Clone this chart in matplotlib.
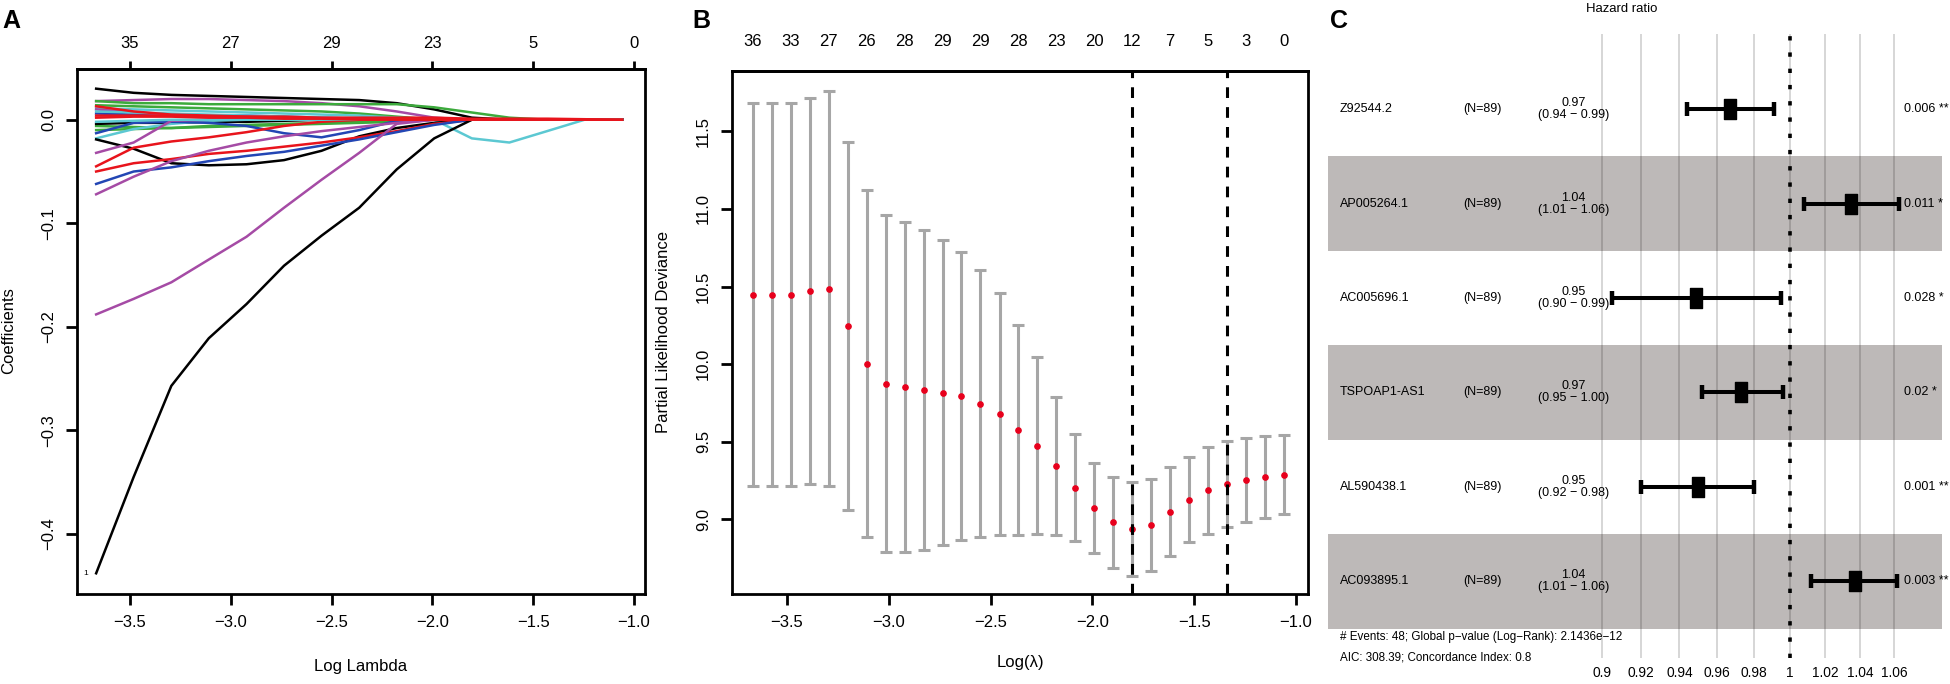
import numpy as np
import matplotlib.pyplot as plt
from matplotlib import font_manager
from matplotlib.path import Path
from matplotlib.ticker import NullLocator
from matplotlib.transforms import blended_transform_factory

plt.rcParams['font.family'] = ['Liberation Sans', 'DejaVu Sans']

# the forest panel uses a condensed face; fall back to a smaller regular face
try:
    font_manager.findfont('Liberation Sans Narrow', fallback_to_default=False)
    NARROW, c_scale, f_scale = ['Liberation Sans Narrow', 'DejaVu Sans'], 1.0, 1.0
except ValueError:
    NARROW, c_scale, f_scale = ['Liberation Sans', 'DejaVu Sans'], 0.9, 0.84

# ---------------- Panel A: coefficient paths ----------------
lam_path = [-3.668, -3.482, -3.295, -3.109, -2.922, -2.736, -2.550, -2.363,
            -2.177, -1.991, -1.804, -1.618, -1.431, -1.245, -1.059]

BLK, RED, GRN, BLU, CYN, PUR = '#000000', '#e8141c', '#3caa3c', '#2346b4', '#5cc8d2', '#a54ba5'

path_colors = [GRN, CYN, BLU, PUR, GRN, GRN, BLK, CYN, BLU, CYN, PUR,
               BLK, BLK, RED, RED, BLU, PUR, PUR, PUR, BLK, GRN, RED, CYN, RED, RED]
coef_paths = [
    [0.014, 0.013, 0.012, 0.011, 0.010, 0.009, 0.008, 0.006, 0.003, 0, 0, 0, 0, 0, 0],
    [0.011, 0.010, 0.009, 0.008, 0.007, 0.006, 0.005, 0.004, 0.002, 0, 0, 0, 0, 0, 0],
    [0.006, 0.005, 0.005, 0.004, 0.004, 0.003, 0.002, 0.001, 0, 0, 0, 0, 0, 0, 0],
    [0.010, 0.007, 0.005, 0.003, 0.001, 0, 0, 0, 0, 0, 0, 0, 0, 0, 0],
    [-0.006, -0.007, -0.008, -0.007, -0.006, -0.005, -0.004, -0.003, -0.002, 0, 0, 0, 0, 0, 0],
    [-0.010, -0.009, -0.008, -0.006, -0.005, -0.004, -0.003, -0.002, -0.001, 0, 0, 0, 0, 0, 0],
    [-0.004, -0.003, -0.003, -0.002, -0.002, -0.001, 0, 0, 0, 0, 0, 0, 0, 0, 0],
    [-0.018, -0.009, -0.004, -0.001, 0, 0, 0, 0, 0, 0, 0, 0, 0, 0, 0],
    [-0.013, -0.003, -0.002, -0.003, -0.006, -0.013, -0.017, -0.010, -0.001, 0, 0, 0, 0, 0, 0],
    [0.008, 0.007, 0.006, 0.005, 0.004, 0.003, 0.002, 0.001, 0, 0, -0.018, -0.022, -0.011, 0, 0],
    [0.018, 0.019, 0.020, 0.020, 0.019, 0.018, 0.016, 0.013, 0.008, 0.002, 0, 0, 0, 0, 0],
    [0.030, 0.026, 0.024, 0.023, 0.022, 0.021, 0.020, 0.019, 0.016, 0.010, 0.002, 0, 0, 0, 0],
    [-0.019, -0.028, -0.042, -0.044, -0.043, -0.039, -0.030, -0.016, -0.008, -0.003, 0, 0, 0, 0, 0],
    [-0.045, -0.027, -0.021, -0.017, -0.012, -0.006, -0.002, 0, 0, 0, 0, 0, 0, 0, 0],
    [-0.050, -0.042, -0.038, -0.033, -0.030, -0.026, -0.022, -0.017, -0.011, -0.004, 0, 0, 0, 0, 0],
    [-0.062, -0.050, -0.046, -0.040, -0.035, -0.031, -0.025, -0.019, -0.012, -0.005, 0, 0, 0, 0, 0],
    [-0.072, -0.055, -0.040, -0.030, -0.022, -0.016, -0.011, -0.007, -0.003, 0, 0, 0, 0, 0, 0],
    [-0.032, -0.022, -0.001, 0, 0, 0, 0, 0, 0, 0, 0, 0, 0, 0, 0],
    [-0.188, -0.173, -0.157, -0.135, -0.113, -0.085, -0.058, -0.032, -0.004, 0, 0, 0, 0, 0, 0],
    [-0.438, -0.345, -0.257, -0.211, -0.178, -0.141, -0.112, -0.085, -0.048, -0.018, 0, 0, 0, 0, 0],
    [0.018, 0.016, 0.016, 0.015, 0.015, 0.015, 0.015, 0.015, 0.015, 0.012, 0.007, 0.002, 0, 0, 0],
    [0.013, 0.008, 0.005, 0.004, 0.003, 0.002, 0.001, 0, 0, 0, 0, 0, 0, 0, 0],
    [-0.002, -0.001, 0, 0, 0, 0, 0, 0, 0, 0, 0, 0, 0, 0, 0],
    [0.002, 0.003, 0.003, 0.002, 0.002, 0.001, 0.001, 0, 0, 0, 0, 0, 0, 0, 0],
    [0.004, 0.004, 0.004, 0.003, 0.003, 0.003, 0.002, 0.002, 0.002, 0.002, 0.001, 0.001, 0.001, 0.0005, 0],
]
a_xticks = [-3.5, -3.0, -2.5, -2.0, -1.5, -1.0]
a_yticks = [0.0, -0.1, -0.2, -0.3, -0.4]
a_top_labels = ['35', '27', '29', '23', '5', '0']

# ---------------- Panel B: cross-validation ----------------
lam_cv = [-3.668, -3.575, -3.482, -3.388, -3.295, -3.202, -3.109, -3.016, -2.922, -2.829,
          -2.736, -2.643, -2.550, -2.456, -2.363, -2.270, -2.177, -2.084, -1.991, -1.897,
          -1.804, -1.711, -1.618, -1.524, -1.431, -1.338, -1.245, -1.152, -1.059]
cv_mean = [10.447, 10.447, 10.447, 10.469, 10.486, 10.244, 10.003, 9.874, 9.854, 9.831,
           9.812, 9.792, 9.744, 9.677, 9.573, 9.475, 9.343, 9.202, 9.071, 8.983,
           8.936, 8.962, 9.048, 9.127, 9.187, 9.226, 9.254, 9.273, 9.284]
cv_up = [11.683, 11.683, 11.683, 11.716, 11.761, 11.430, 11.121, 10.961, 10.919, 10.862,
         10.798, 10.725, 10.607, 10.458, 10.253, 10.045, 9.789, 9.550, 9.361, 9.275,
         9.239, 9.260, 9.336, 9.404, 9.468, 9.505, 9.522, 9.535, 9.544]
cv_lo = [9.216, 9.216, 9.216, 9.225, 9.213, 9.062, 8.885, 8.787, 8.787, 8.803,
         8.834, 8.868, 8.885, 8.899, 8.899, 8.904, 8.899, 8.861, 8.782, 8.689,
         8.637, 8.666, 8.762, 8.852, 8.906, 8.949, 8.985, 9.011, 9.033]
b_top_labels = ['36', '33', '27', '26', '28', '29', '29', '28', '23', '20', '12', '7', '5', '3', '0']
lam_min, lam_1se = -1.804, -1.338
b_xticks = [-3.5, -3.0, -2.5, -2.0, -1.5, -1.0]
b_yticks = [9.0, 9.5, 10.0, 10.5, 11.0, 11.5]

# ---------------- Panel C: forest plot ----------------
genes = ['Z92544.2', 'AP005264.1', 'AC005696.1', 'TSPOAP1-AS1', 'AL590438.1', 'AC093895.1']
n_text = ['(N=89)'] * 6
hr = [0.967, 1.035, 0.949, 0.973, 0.950, 1.037]
hr_lo = [0.944, 1.008, 0.905, 0.952, 0.920, 1.012]
hr_hi = [0.991, 1.063, 0.995, 0.996, 0.980, 1.062]
hr_text = ['0.97', '1.04', '0.95', '0.97', '0.95', '1.04']
ci_text = ['(0.94 \u2212 0.99)', '(1.01 \u2212 1.06)', '(0.90 \u2212 0.99)',
           '(0.95 \u2212 1.00)', '(0.92 \u2212 0.98)', '(1.01 \u2212 1.06)']
p_text = ['0.006 **', '0.011 *', '0.028 *', '0.02 *', '0.001 **', '0.003 **']
c_ticks = [0.9, 0.92, 0.94, 0.96, 0.98, 1, 1.02, 1.04, 1.06]
c_tick_labels = ['0.9', '0.92', '0.94', '0.96', '0.98', '1', '1.02', '1.04', '1.06']
footer = ['# Events: 48; Global p\u2212value (Log\u2212Rank): 2.1436e\u221212',
          'AIC: 308.39; Concordance Index: 0.8']


def fmt(v):
    return f'{v:.1f}'.replace('-', '\u2212')


W, H = 1950, 684
fig = plt.figure(figsize=(W / 100, H / 100), dpi=100)


def box(l, t, r, b):
    return [l / W, 1 - b / H, (r - l) / W, (b - t) / H]


def r_frame(ax):
    for s in ax.spines.values():
        s.set_linewidth(2)
    ax.tick_params(direction='out', length=8, width=2, labelsize=12, pad=7)
    ax.tick_params(axis='y', labelrotation=90)
    for t in ax.get_yticklabels():
        t.set_va('center')


# --- A ---
axA = fig.add_axes(box(77, 69, 645, 594))
for color, vals in zip(path_colors, coef_paths):
    axA.plot(lam_path, vals, color=color, lw=1.8, solid_joinstyle='round')
axA.set_xlim(-3.763, -0.945)
axA.set_ylim(-0.458, 0.049)
axA.set_xticks(a_xticks, labels=[fmt(v) for v in a_xticks])
axA.set_yticks(a_yticks, labels=[fmt(v) for v in a_yticks])
r_frame(axA)
axA.text(lam_path[0] - 0.05, coef_paths[19][0], '1', fontsize=6, ha='center', va='center')
topA = axA.secondary_xaxis('top')
topA.set_xticks(a_xticks, labels=a_top_labels)
topA.tick_params(length=6, width=2, labelsize=12, pad=7)
topA.spines['top'].set_linewidth(2)

fig.text(361 / W, 1 - 667 / H, 'Log Lambda', ha='center', va='center', fontsize=12)
fig.text(9 / W, 1 - 331 / H, 'Coefficients', ha='center', va='center', fontsize=12, rotation=90)

# --- B ---
axB = fig.add_axes(box(732, 71, 1308, 594))
mean_arr, up_arr, lo_arr = np.array(cv_mean), np.array(cv_up), np.array(cv_lo)
axB.errorbar(lam_cv, cv_mean, yerr=[mean_arr - lo_arr, up_arr - mean_arr], fmt='o',
             ms=3.8, color='#e8001c', mec='#e8001c', ecolor='#a6a6a6', elinewidth=2.2,
             capsize=4.6, capthick=2.2, zorder=3)
axB.axvline(lam_min, color='black', lw=2.2, ls=(0, (3.5, 3)), zorder=4)
axB.axvline(lam_1se, color='black', lw=2.2, ls=(0, (3.5, 3)), zorder=4)
axB.set_xlim(-3.770, -0.941)
axB.set_ylim(8.519, 11.889)
axB.set_xticks(b_xticks, labels=[fmt(v) for v in b_xticks])
axB.set_yticks(b_yticks, labels=[fmt(v) for v in b_yticks])
r_frame(axB)
topB = axB.secondary_xaxis('top')
topB.set_xticks(lam_cv[::2], labels=b_top_labels)
topB.tick_params(length=0, labelsize=12, pad=16)
topB.spines['top'].set_linewidth(2)

fig.text(1020 / W, 1 - 662 / H, 'Log(\u03bb)', ha='center', va='center', fontsize=12)
fig.text(663 / W, 1 - 332 / H, 'Partial Likelihood Deviance', ha='center', va='center',
         fontsize=12, rotation=90)

# --- C ---
fs = 10 * c_scale
axC = fig.add_axes(box(1328, 34, 1942, 658))
axC.set_xscale('log')
axC.set_xlim(0.772, 1.089)
axC.set_ylim(5.81, -0.794)
rows = np.arange(len(genes))
for i in rows[1::2]:
    axC.axhspan(i - 0.5, i + 0.5, facecolor='#140500', alpha=0.28, lw=0, zorder=1)
axC.set_xticks(c_ticks, labels=c_tick_labels)
axC.xaxis.set_minor_locator(NullLocator())
axC.set_yticks([])
axC.set_axisbelow(True)
axC.xaxis.grid(True, color='#d6d6d6', lw=1.4)
axC.tick_params(axis='x', length=0, pad=6, labelsize=11 * c_scale)
for t in axC.get_xticklabels():
    t.set_family(NARROW)
for s in axC.spines.values():
    s.set_visible(False)

axC.axvline(1, color='black', lw=2.6, ls=(0, (1.2, 3.3)), dash_capstyle='butt', zorder=3)
hr_arr, lo_arr2, hi_arr = np.array(hr), np.array(hr_lo), np.array(hr_hi)
axC.errorbar(hr, rows, xerr=[hr_arr - lo_arr2, hi_arr - hr_arr], fmt='none', ecolor='black',
             elinewidth=2.9, capsize=5, capthick=3.2, zorder=4)
rect = Path([(-0.68, -1), (0.68, -1), (0.68, 1), (-0.68, 1), (-0.68, -1)],
            [Path.MOVETO, Path.LINETO, Path.LINETO, Path.LINETO, Path.CLOSEPOLY])
axC.plot(hr, rows, ls='none', marker=rect, ms=13.7, color='black', zorder=5)

tr = blended_transform_factory(axC.transAxes, axC.transData)
for i in rows:
    axC.text(0.0195, i, genes[i], transform=tr, ha='left', va='center', fontsize=fs, family=NARROW)
    axC.text(0.22, i, n_text[i], transform=tr, ha='left', va='center', fontsize=fs, family=NARROW)
    axC.text(0.400, i, hr_text[i] + '\n' + ci_text[i], transform=tr, ha='center', va='center',
             fontsize=fs, family=NARROW, linespacing=1.0)
    axC.text(0.938, i, p_text[i], transform=tr, ha='left', va='center', fontsize=fs, family=NARROW)
axC.text(0.0195, 5.587, footer[0], transform=tr, ha='left', va='center', fontsize=10 * f_scale,
         family=NARROW, clip_on=False)
axC.text(0.0195, 5.80, footer[1], transform=tr, ha='left', va='center', fontsize=10 * f_scale,
         family=NARROW, clip_on=False)
axC.text(0.479, 1.04, 'Hazard ratio', transform=axC.transAxes, ha='center', va='center',
         fontsize=10.5 * c_scale, family=NARROW)

# panel letters
for lbl, xp in [('A', 2), ('B', 692), ('C', 1330)]:
    fig.text(xp / W, 1 - 28 / H, lbl, fontsize=18, fontweight='bold', ha='left', va='baseline')

fig.savefig('out.png', dpi=100)
